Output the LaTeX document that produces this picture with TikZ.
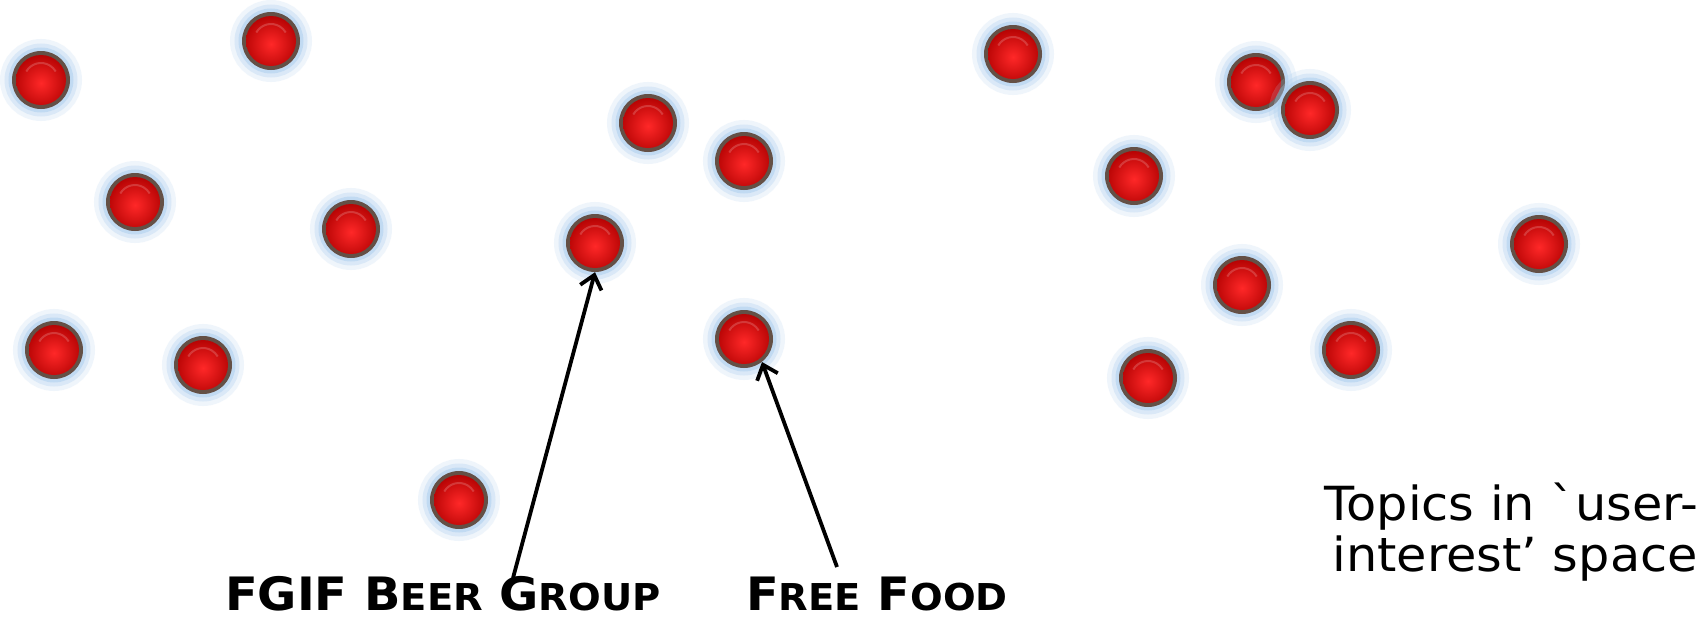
\documentclass[tikz,border=0pt]{standalone}
\usepackage{fontspec}
\newfontfamily\vfont{DejaVu Sans}
\usetikzlibrary{arrows.meta}
\definecolor{rim}{RGB}{100,80,70}
\definecolor{glowc}{RGB}{170,205,238}
\definecolor{redhi}{RGB}{255,40,40}
\definecolor{redlo}{RGB}{175,0,0}
\newcommand{\sm}[1]{{\fontsize{37}{40}\selectfont #1}}
\tikzset{
  ball/.style={circle, minimum size=58pt, inner sep=0pt, fill=rim,
    preaction={draw=glowc, line width=24pt, draw opacity=0.18},
    preaction={draw=glowc, line width=15pt, draw opacity=0.3},
    preaction={draw=glowc, line width=7pt, draw opacity=0.5},
    path picture={
      \begin{scope}[shift={(path picture bounding box.center)}]
        \clip (0,0) circle (25pt);
        \shade[inner color=redhi, outer color=redlo] (0,-3pt) circle (31pt);
        \draw[white, opacity=0.18, line width=2pt] (150:17pt) arc (150:30:17pt);
      \end{scope}
    }},
  arr/.style={draw=black, line width=3.8pt, -{Straight Barb[length=13pt,width=22pt,line width=3.8pt]}},
  lab/.style={font=\vfont\bfseries\fontsize{46}{50}\selectfont, inner sep=0pt, anchor=base west},
  note/.style={font=\vfont\fontsize{47}{54}\selectfont, inner sep=0pt, anchor=base east}
}
\begin{document}
\begin{tikzpicture}[x=1pt,y=-1pt]
\useasboundingbox[fill=white] (0,0) rectangle (1705,616);
\node[ball] (b1) at (41,80) {};
\node[ball] (b2) at (271,41) {};
\node[ball] (b3) at (135,202) {};
\node[ball] (b4) at (351,229) {};
\node[ball] (b5) at (54,350) {};
\node[ball] (b6) at (203,365) {};
\node[ball] (b7) at (459,500) {};
\node[ball] (b8) at (648,123) {};
\node[ball] (b9) at (744,161) {};
\node[ball] (b10) at (595,243) {};
\node[ball] (b11) at (744,339) {};
\node[ball] (b12) at (1013,54) {};
\node[ball] (b13) at (1256,82) {};
\node[ball] (b14) at (1310,110) {};
\node[ball] (b15) at (1134,176) {};
\node[ball] (b16) at (1539,244) {};
\node[ball] (b17) at (1242,285) {};
\node[ball] (b18) at (1351,350) {};
\node[ball] (b19) at (1148,378) {};
\node[lab] (beer) at (225,610) {\scalebox{1.04}[1]{FGIF B\sm{EER} G\sm{ROUP}}};
\node[lab] (food) at (746,610) {\scalebox{1.04}[1]{F\sm{REE} F\sm{OOD}}};
\node[note] (topics1) at (1698,520) {\scalebox{1.05}[1]{Topics in `user-}};
\node[note] (topics2) at (1698,571) {\scalebox{1.05}[1]{interest’ space}};
\coordinate (beerstart) at (513,578);
\coordinate (foodstart) at (837,567);
\draw[arr] (beerstart) -- (b10.south);
\draw[arr] (foodstart) -- (b11.-52);
\end{tikzpicture}
\end{document}
